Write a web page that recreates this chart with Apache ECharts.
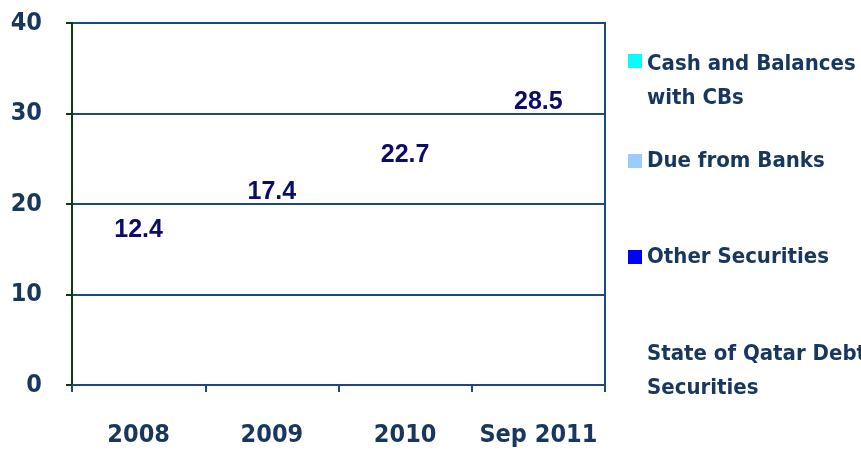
<!DOCTYPE html>
<html>
<head>
<meta charset="utf-8">
<script src="https://cdn.jsdelivr.net/npm/echarts@6/dist/echarts.min.js"></script>
<style>
  html, body { margin: 0; padding: 0; background: #fff; }
  #main { width: 861px; height: 455px; }
</style>
</head>
<body>
<div id="main"></div>
<script>
// categories and totals
var years = ['2008', '2009', '2010', 'Sep 2011'];
var totals = [12.4, 17.4, 22.7, 28.5];
// the breakdown series have no visible bars in the picture
var seriesNames = ['Cash and Balances with CBs', 'Due from Banks', 'Other Securities', 'State of Qatar Debt Securities'];
var seriesColors = ['#00ffff', '#99ccff', '#0000ff', '#ffffff'];

var chartDom = document.getElementById('main');
var myChart = echarts.init(chartDom);
var option;

var navy = '#17375e';
var narrow = "'DejaVu Sans Condensed', 'Liberation Sans Narrow', sans-serif";
// how far each total label sits above its bar
var labelGap = [30, 23, 12, 12];

var legendTops = [22, 150, 246, 343];
var legendText = {
  'Cash and Balances with CBs': '{gap| }\n{t|Cash and Balances}\n{t|with CBs}',
  'Due from Banks': '{t|Due from Banks}',
  'Other Securities': '{t|Other Securities}',
  'State of Qatar Debt Securities': '{t|State of Qatar Debt}\n{t|Securities}'
};

option = {
  backgroundColor: '#fff',
  animation: false,
  grid: {
    left: 72,
    right: 256,
    top: 23,
    bottom: 70,
    show: true,
    borderColor: '#1f497d',
    borderWidth: 2
  },
  legend: seriesNames.map(function (name, i) {
    return {
      data: [name],
      orient: 'vertical',
      left: 628,
      top: legendTops[i],
      padding: 0,
      itemWidth: 14,
      itemHeight: 14,
      icon: 'rect',
      selectedMode: false,
      formatter: function (n) { return legendText[n]; },
      textStyle: {
        rich: {
          gap: { fontSize: 10, lineHeight: 40 },
          t: {
            fontFamily: narrow,
            fontWeight: 'bold',
            fontSize: 22,
            lineHeight: 34,
            color: navy
          }
        }
      }
    };
  }),
  xAxis: {
    type: 'category',
    data: years,
    axisLine: { lineStyle: { color: '#1f497d', width: 2 } },
    axisTick: { show: true, length: 7, lineStyle: { color: '#1f497d', width: 2 } },
    axisLabel: {
      interval: 0,
      margin: 38,
      fontFamily: narrow,
      fontWeight: 'bold',
      fontSize: 25,
      color: navy
    }
  },
  yAxis: {
    type: 'value',
    min: 0,
    max: 40,
    interval: 10,
    axisLine: { show: true, lineStyle: { color: '#0b3b0b', width: 2 } },
    axisTick: { show: true, length: 6, lineStyle: { color: '#0b3b0b', width: 2 } },
    splitLine: { lineStyle: { color: '#1f497d', width: 2 } },
    axisLabel: {
      margin: 30,
      fontFamily: narrow,
      fontWeight: 'bold',
      fontSize: 25,
      color: navy
    }
  },
  series: seriesNames.map(function (name, i) {
    return {
      name: name,
      type: 'bar',
      stack: 'total',
      itemStyle: { color: seriesColors[i] },
      data: []
    };
  }).concat([{
    name: 'Total',
    type: 'bar',
    barGap: '-100%',
    itemStyle: { color: 'rgba(0,0,0,0)' },
    data: totals.map(function (v, i) {
      return {
        value: v,
        label: { distance: labelGap[i] }
      };
    }),
    label: {
      show: true,
      position: 'top',
      fontFamily: "'Liberation Sans', Arial, sans-serif",
      fontWeight: 'bold',
      fontSize: 25,
      color: '#0b0b6b'
    }
  }])
};

option && myChart.setOption(option);
</script>
</body>
</html>
